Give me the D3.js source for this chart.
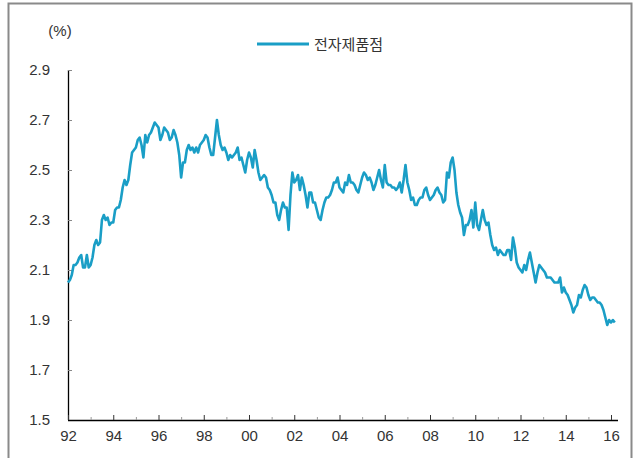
<!DOCTYPE html>
<html lang="ko">
<head>
<meta charset="UTF-8">
<title>전자제품점</title>
<style>
  body { margin: 0; background: #fff; }
  svg { display: block; font-family: "Liberation Sans", Arial, sans-serif; }
  .tick text { fill: #333; font-size: 15px; }
</style>
</head>
<body>
<div id="chart"></div>
<script src="https://d3js.org/d3.v7.min.js"></script>
<script>
// monthly values, Jan 1992 .. Mar 2016
const startYear = 1992;
const rates = [
  2.05, 2.06, 2.08, 2.12, 2.12, 2.13, 2.15, 2.16, 2.11, 2.11, 2.16, 2.11, // 92
  2.12, 2.15, 2.20, 2.22, 2.20, 2.21, 2.30, 2.32, 2.30, 2.31, 2.28, 2.29, // 93
  2.29, 2.34, 2.35, 2.35, 2.38, 2.43, 2.46, 2.44, 2.46, 2.52, 2.57, 2.58, // 94
  2.59, 2.62, 2.63, 2.60, 2.55, 2.64, 2.61, 2.64, 2.65, 2.67, 2.69, 2.68, // 95
  2.67, 2.62, 2.64, 2.67, 2.66, 2.65, 2.62, 2.63, 2.66, 2.64, 2.61, 2.56, // 96
  2.47, 2.53, 2.53, 2.58, 2.60, 2.58, 2.59, 2.57, 2.59, 2.57, 2.60, 2.61, // 97
  2.62, 2.64, 2.63, 2.59, 2.56, 2.56, 2.63, 2.70, 2.64, 2.60, 2.58, 2.59, // 98
  2.57, 2.54, 2.56, 2.55, 2.56, 2.57, 2.59, 2.54, 2.55, 2.52, 2.49, 2.54, // 99
  2.57, 2.55, 2.51, 2.58, 2.54, 2.49, 2.46, 2.47, 2.48, 2.47, 2.43, 2.42, // 00
  2.40, 2.37, 2.37, 2.32, 2.30, 2.34, 2.37, 2.35, 2.35, 2.26, 2.40, 2.49, // 01
  2.45, 2.46, 2.48, 2.42, 2.47, 2.44, 2.40, 2.35, 2.41, 2.41, 2.37, 2.37, // 02
  2.34, 2.31, 2.30, 2.34, 2.37, 2.39, 2.39, 2.40, 2.42, 2.45, 2.45, 2.47, // 03
  2.43, 2.42, 2.41, 2.45, 2.44, 2.48, 2.45, 2.45, 2.44, 2.42, 2.41, 2.44, // 04
  2.47, 2.49, 2.48, 2.46, 2.47, 2.45, 2.42, 2.44, 2.47, 2.50, 2.46, 2.43, // 05
  2.52, 2.45, 2.44, 2.44, 2.43, 2.43, 2.42, 2.43, 2.45, 2.41, 2.46, 2.52, // 06
  2.45, 2.42, 2.38, 2.39, 2.36, 2.36, 2.38, 2.39, 2.39, 2.42, 2.43, 2.40, // 07
  2.38, 2.39, 2.40, 2.42, 2.43, 2.41, 2.40, 2.37, 2.38, 2.49, 2.47, 2.53, // 08
  2.55, 2.50, 2.41, 2.36, 2.33, 2.31, 2.24, 2.28, 2.28, 2.30, 2.34, 2.27, // 09
  2.37, 2.28, 2.26, 2.30, 2.34, 2.30, 2.28, 2.29, 2.24, 2.20, 2.18, 2.19, // 10
  2.16, 2.18, 2.17, 2.16, 2.16, 2.18, 2.18, 2.14, 2.23, 2.19, 2.13, 2.11, // 11
  2.10, 2.09, 2.12, 2.10, 2.14, 2.17, 2.13, 2.09, 2.05, 2.09, 2.12, 2.11, // 12
  2.10, 2.09, 2.07, 2.07, 2.07, 2.06, 2.05, 2.05, 2.05, 2.07, 2.01, 2.03, // 13
  2.01, 2.00, 1.98, 1.96, 1.93, 1.95, 1.96, 2.00, 1.99, 2.02, 2.04, 2.03, // 14
  2.00, 1.98, 1.99, 1.99, 1.98, 1.97, 1.97, 1.96, 1.94, 1.91, 1.88, 1.90, // 15
  1.89, 1.90, 1.89                                                        // 16
];
const yTicks = [1.5, 1.7, 1.9, 2.1, 2.3, 2.5, 2.7, 2.9];
const xTickYears = d3.range(1992, 2017);
const seriesName = "전자제품점";
const unitLabel = "(%)";

const W = 635, H = 458;
const margin = { top: 70, right: 24, bottom: 38, left: 68 };

const svg = d3.select("#chart").append("svg")
  .attr("width", W)
  .attr("height", H);

// outer frame (open at bottom)
svg.append("path")
  .attr("d", "M8.5," + H + "V3.5H631.5V" + H)
  .attr("fill", "none")
  .attr("stroke", "#8a8a8a")
  .attr("stroke-width", 2);

const x = d3.scaleLinear()
  .domain([1992, 2016])
  .range([68, 611]);

const y = d3.scaleLinear()
  .domain([1.5, 2.9])
  .range([420, 70]);

// y axis
const yAxis = svg.append("g")
  .attr("transform", "translate(" + margin.left + ",0)")
  .call(d3.axisLeft(y).tickValues(yTicks).tickFormat(d3.format(".1f")).tickSize(-4).tickPadding(18));
yAxis.select(".domain").attr("stroke", "#000").attr("stroke-width", 1.3).attr("d", "M0.5,70V420");
yAxis.selectAll(".tick line").attr("stroke", "#888");
yAxis.selectAll(".tick text").attr("text-anchor", "end").attr("x", -18);

// x axis
const xAxis = svg.append("g")
  .attr("transform", "translate(0,420)")
  .call(d3.axisBottom(x).tickValues(xTickYears)
    .tickFormat(d => d % 2 === 0 ? String(d).slice(2) : "")
    .tickSize(0).tickPadding(10));
xAxis.select(".domain").attr("stroke", "#000").attr("stroke-width", 1.3).attr("d", "M68,0.5H618");
xAxis.selectAll(".tick line")
  .attr("y2", d => d % 2 === 0 ? -5 : -3)
  .attr("stroke", d => d % 2 === 0 ? "#333" : "#999");

// unit label
svg.append("text")
  .attr("x", 60)
  .attr("y", 36)
  .attr("text-anchor", "middle")
  .attr("fill", "#333")
  .style("font-size", "15px")
  .text(unitLabel);

// legend
svg.append("line")
  .attr("x1", 257).attr("x2", 309)
  .attr("y1", 44).attr("y2", 44)
  .attr("stroke", "#1a9ec6")
  .attr("stroke-width", 3);
svg.append("text")
  .attr("x", 314)
  .attr("y", 49.5)
  .attr("fill", "#333")
  .style("font-family", "'Noto Sans CJK KR', sans-serif")
  .style("font-size", "15px")
  .text(seriesName);

// series
const points = rates.map((v, i) => ({ t: startYear + i / 12, v: v }));
const line = d3.line()
  .x(d => x(d.t))
  .y(d => y(d.v));

svg.append("path")
  .datum(points)
  .attr("fill", "none")
  .attr("stroke", "#1a9ec6")
  .attr("stroke-width", 2.6)
  .attr("stroke-linejoin", "round")
  .attr("d", line);
</script>
</body>
</html>
